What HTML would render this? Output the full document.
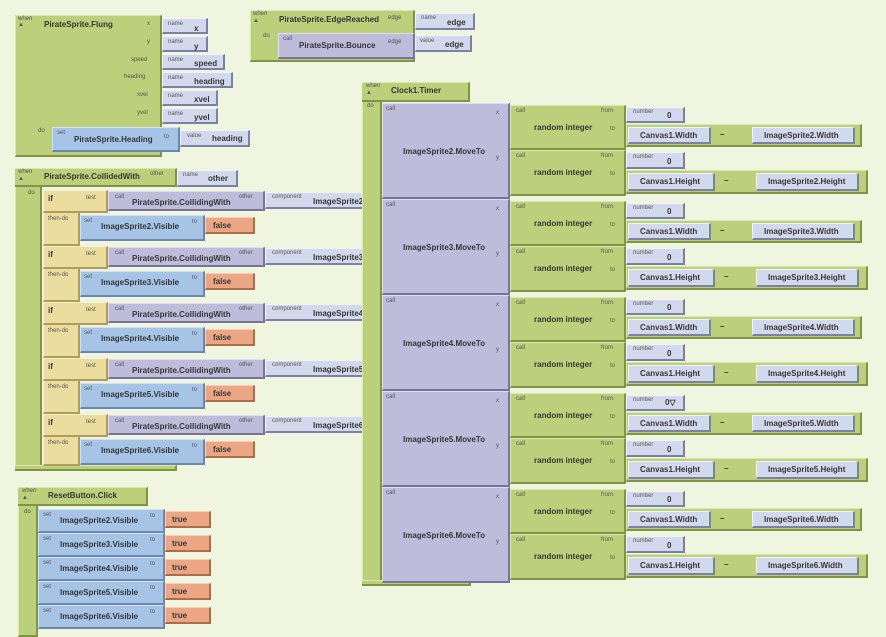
<!DOCTYPE html>
<html><head><meta charset="utf-8"><style>
body{margin:0;width:886px;height:631px;background:#f0f5df;position:relative;overflow:hidden;font-family:"Liberation Sans",sans-serif}
.b{position:absolute;box-sizing:border-box;border-style:solid;border-width:1px 2px 2px 1px}
.g{background:#bccf7b;border-color:#dbe8ad #7f9446 #7f9446 #dbe8ad}
.p{background:#bfbbdb;border-color:#e0ddf2 #77739a #77739a #e0ddf2}
.s{background:#d3d9ec;border-color:#f2f4fb #7a82a3 #7a82a3 #f2f4fb}
.bl{background:#a6c4e6;border-color:#d2e2f5 #6a88ae #6a88ae #d2e2f5}
.o{background:#eba684;border-color:#f8ccb6 #ad6c4c #ad6c4c #f8ccb6}
.t{background:#ebdda0;border-color:#f8f0cc #ae9e5e #ae9e5e #f8f0cc}
.m{position:absolute;font:bold 8px "Liberation Sans",sans-serif;color:#363636;white-space:nowrap;line-height:10px}
.l{position:absolute;font:6px "Liberation Sans",sans-serif;color:#555;white-space:nowrap;line-height:7px}
</style></head><body>

<!-- Flung -->
<div class="b g" style="left:15px;top:15px;width:147px;height:142px"></div>
<span class="l" style="left:18px;top:16px">when</span><span class="l" style="left:18px;top:22px">▲</span>
<span class="m" style="left:44px;top:20px">PirateSprite.Flung</span>
<span class="l" style="left:147px;top:21px">x</span>
<span class="l" style="left:147px;top:39px">y</span>
<span class="l" style="left:131px;top:57px">speed</span>
<span class="l" style="left:124px;top:74px">heading</span>
<span class="l" style="left:137px;top:92px">xvel</span>
<span class="l" style="left:137px;top:110px">yvel</span>
<div class="b s" style="left:162px;top:18px;width:46px;height:16px"></div><span class="l" style="left:168px;top:21px">name</span><span class="m" style="left:194px;top:24px">x</span>
<div class="b s" style="left:162px;top:36px;width:46px;height:16px"></div><span class="l" style="left:168px;top:39px">name</span><span class="m" style="left:194px;top:42px">y</span>
<div class="b s" style="left:162px;top:54px;width:63px;height:16px"></div><span class="l" style="left:168px;top:57px">name</span><span class="m" style="left:194px;top:59px">speed</span>
<div class="b s" style="left:162px;top:72px;width:71px;height:16px"></div><span class="l" style="left:168px;top:75px">name</span><span class="m" style="left:194px;top:77px">heading</span>
<div class="b s" style="left:162px;top:90px;width:56px;height:16px"></div><span class="l" style="left:168px;top:93px">name</span><span class="m" style="left:194px;top:95px">xvel</span>
<div class="b s" style="left:162px;top:108px;width:56px;height:16px"></div><span class="l" style="left:168px;top:111px">name</span><span class="m" style="left:194px;top:113px">yvel</span>
<span class="l" style="left:38px;top:128px">do</span>
<div class="b bl" style="left:52px;top:127px;width:128px;height:25px"></div>
<span class="l" style="left:57px;top:130px">set</span><span class="m" style="left:74px;top:135px">PirateSprite.Heading</span><span class="l" style="left:164px;top:134px">to</span>
<div class="b s" style="left:180px;top:130px;width:70px;height:17px"></div><span class="l" style="left:187px;top:133px">value</span><span class="m" style="left:212px;top:134px">heading</span>

<!-- EdgeReached -->
<div class="b g" style="left:250px;top:10px;width:165px;height:52px"></div>
<span class="l" style="left:253px;top:11px">when</span><span class="l" style="left:253px;top:18px">▲</span>
<span class="m" style="left:279px;top:15px">PirateSprite.EdgeReached</span>
<span class="l" style="left:388px;top:15px">edge</span>
<div class="b s" style="left:415px;top:13px;width:60px;height:17px"></div><span class="l" style="left:421px;top:15px">name</span><span class="m" style="left:447px;top:18px">edge</span>
<span class="l" style="left:263px;top:33px">do</span>
<div class="b p" style="left:278px;top:33px;width:137px;height:26px"></div>
<span class="l" style="left:283px;top:36px">call</span><span class="m" style="left:299px;top:41px">PirateSprite.Bounce</span><span class="l" style="left:388px;top:39px">edge</span>
<div class="b s" style="left:415px;top:35px;width:57px;height:17px"></div><span class="l" style="left:420px;top:38px">value</span><span class="m" style="left:445px;top:40px">edge</span>

<!-- CollidedWith -->
<div class="b g" style="left:15px;top:168px;width:27px;height:303px"></div>
<div class="b g" style="left:15px;top:168px;width:162px;height:19px;border-left:none"></div>
<div class="b g" style="left:15px;top:465px;width:162px;height:6px;border-left:none"></div>
<span class="l" style="left:18px;top:169px">when</span><span class="l" style="left:18px;top:176px">▲</span>
<span class="m" style="left:44px;top:172px">PirateSprite.CollidedWith</span>
<span class="l" style="left:150px;top:171px">other</span>
<div class="b s" style="left:177px;top:170px;width:61px;height:17px"></div><span class="l" style="left:183px;top:172px">name</span><span class="m" style="left:208px;top:174px">other</span>
<span class="l" style="left:28px;top:190px">do</span>

<div class="b t" style="left:43px;top:190px;width:37px;height:56px"></div><div class="b t" style="left:43px;top:190px;width:65px;height:23px"></div>
<span class="m" style="left:48px;top:194px">if</span><span class="l" style="left:86px;top:195px">test</span><span class="l" style="left:48px;top:216px">then-do</span>
<div class="b p" style="left:108px;top:191px;width:157px;height:20px"></div><span class="l" style="left:115px;top:194px">call</span><span class="m" style="left:132px;top:198px">PirateSprite.CollidingWith</span><span class="l" style="left:239px;top:194px">other</span>
<div class="b s" style="left:265px;top:192px;width:100px;height:17px"></div><span class="l" style="left:272px;top:194px">component</span><span class="m" style="left:313px;top:197px">ImageSprite2</span>
<div class="b bl" style="left:80px;top:215px;width:125px;height:26px"></div><span class="l" style="left:84px;top:218px">set</span><span class="m" style="left:101px;top:222px">ImageSprite2.Visible</span><span class="l" style="left:192px;top:219px">to</span>
<div class="b o" style="left:205px;top:217px;width:50px;height:17px"></div><span class="m" style="left:213px;top:221px">false</span>

<div class="b t" style="left:43px;top:246px;width:37px;height:56px"></div><div class="b t" style="left:43px;top:246px;width:65px;height:23px"></div>
<span class="m" style="left:48px;top:250px">if</span><span class="l" style="left:86px;top:251px">test</span><span class="l" style="left:48px;top:272px">then-do</span>
<div class="b p" style="left:108px;top:247px;width:157px;height:20px"></div><span class="l" style="left:115px;top:250px">call</span><span class="m" style="left:132px;top:254px">PirateSprite.CollidingWith</span><span class="l" style="left:239px;top:250px">other</span>
<div class="b s" style="left:265px;top:248px;width:100px;height:17px"></div><span class="l" style="left:272px;top:250px">component</span><span class="m" style="left:313px;top:253px">ImageSprite3</span>
<div class="b bl" style="left:80px;top:271px;width:125px;height:26px"></div><span class="l" style="left:84px;top:274px">set</span><span class="m" style="left:101px;top:278px">ImageSprite3.Visible</span><span class="l" style="left:192px;top:275px">to</span>
<div class="b o" style="left:205px;top:273px;width:50px;height:17px"></div><span class="m" style="left:213px;top:277px">false</span>

<div class="b t" style="left:43px;top:302px;width:37px;height:56px"></div><div class="b t" style="left:43px;top:302px;width:65px;height:23px"></div>
<span class="m" style="left:48px;top:306px">if</span><span class="l" style="left:86px;top:307px">test</span><span class="l" style="left:48px;top:328px">then-do</span>
<div class="b p" style="left:108px;top:303px;width:157px;height:20px"></div><span class="l" style="left:115px;top:306px">call</span><span class="m" style="left:132px;top:310px">PirateSprite.CollidingWith</span><span class="l" style="left:239px;top:306px">other</span>
<div class="b s" style="left:265px;top:304px;width:100px;height:17px"></div><span class="l" style="left:272px;top:306px">component</span><span class="m" style="left:313px;top:309px">ImageSprite4</span>
<div class="b bl" style="left:80px;top:327px;width:125px;height:26px"></div><span class="l" style="left:84px;top:330px">set</span><span class="m" style="left:101px;top:334px">ImageSprite4.Visible</span><span class="l" style="left:192px;top:331px">to</span>
<div class="b o" style="left:205px;top:329px;width:50px;height:17px"></div><span class="m" style="left:213px;top:333px">false</span>

<div class="b t" style="left:43px;top:358px;width:37px;height:56px"></div><div class="b t" style="left:43px;top:358px;width:65px;height:23px"></div>
<span class="m" style="left:48px;top:362px">if</span><span class="l" style="left:86px;top:363px">test</span><span class="l" style="left:48px;top:384px">then-do</span>
<div class="b p" style="left:108px;top:359px;width:157px;height:20px"></div><span class="l" style="left:115px;top:362px">call</span><span class="m" style="left:132px;top:366px">PirateSprite.CollidingWith</span><span class="l" style="left:239px;top:362px">other</span>
<div class="b s" style="left:265px;top:360px;width:100px;height:17px"></div><span class="l" style="left:272px;top:362px">component</span><span class="m" style="left:313px;top:365px">ImageSprite5</span>
<div class="b bl" style="left:80px;top:383px;width:125px;height:26px"></div><span class="l" style="left:84px;top:386px">set</span><span class="m" style="left:101px;top:390px">ImageSprite5.Visible</span><span class="l" style="left:192px;top:387px">to</span>
<div class="b o" style="left:205px;top:385px;width:50px;height:17px"></div><span class="m" style="left:213px;top:389px">false</span>

<div class="b t" style="left:43px;top:414px;width:37px;height:52px"></div><div class="b t" style="left:43px;top:414px;width:65px;height:23px"></div>
<span class="m" style="left:48px;top:418px">if</span><span class="l" style="left:86px;top:419px">test</span><span class="l" style="left:48px;top:440px">then-do</span>
<div class="b p" style="left:108px;top:415px;width:157px;height:20px"></div><span class="l" style="left:115px;top:418px">call</span><span class="m" style="left:132px;top:422px">PirateSprite.CollidingWith</span><span class="l" style="left:239px;top:418px">other</span>
<div class="b s" style="left:265px;top:416px;width:100px;height:17px"></div><span class="l" style="left:272px;top:418px">component</span><span class="m" style="left:313px;top:421px">ImageSprite6</span>
<div class="b bl" style="left:80px;top:439px;width:125px;height:26px"></div><span class="l" style="left:84px;top:442px">set</span><span class="m" style="left:101px;top:446px">ImageSprite6.Visible</span><span class="l" style="left:192px;top:443px">to</span>
<div class="b o" style="left:205px;top:441px;width:50px;height:17px"></div><span class="m" style="left:213px;top:445px">false</span>

<!-- ResetButton -->
<div class="b g" style="left:18px;top:487px;width:20px;height:150px"></div>
<div class="b g" style="left:18px;top:487px;width:130px;height:19px;border-left:none"></div>
<span class="l" style="left:22px;top:488px">when</span><span class="l" style="left:22px;top:495px">▲</span>
<span class="m" style="left:48px;top:491px">ResetButton.Click</span>
<span class="l" style="left:24px;top:509px">do</span>
<div class="b bl" style="left:38px;top:509px;width:127px;height:24px"></div><span class="l" style="left:43px;top:512px">set</span><span class="m" style="left:60px;top:516px">ImageSprite2.Visible</span><span class="l" style="left:150px;top:513px">to</span><div class="b o" style="left:165px;top:511px;width:46px;height:17px"></div><span class="m" style="left:172px;top:515px">true</span>
<div class="b bl" style="left:38px;top:533px;width:127px;height:24px"></div><span class="l" style="left:43px;top:536px">set</span><span class="m" style="left:60px;top:540px">ImageSprite3.Visible</span><span class="l" style="left:150px;top:537px">to</span><div class="b o" style="left:165px;top:535px;width:46px;height:17px"></div><span class="m" style="left:172px;top:539px">true</span>
<div class="b bl" style="left:38px;top:557px;width:127px;height:24px"></div><span class="l" style="left:43px;top:560px">set</span><span class="m" style="left:60px;top:564px">ImageSprite4.Visible</span><span class="l" style="left:150px;top:561px">to</span><div class="b o" style="left:165px;top:559px;width:46px;height:17px"></div><span class="m" style="left:172px;top:563px">true</span>
<div class="b bl" style="left:38px;top:581px;width:127px;height:24px"></div><span class="l" style="left:43px;top:584px">set</span><span class="m" style="left:60px;top:588px">ImageSprite5.Visible</span><span class="l" style="left:150px;top:585px">to</span><div class="b o" style="left:165px;top:583px;width:46px;height:17px"></div><span class="m" style="left:172px;top:587px">true</span>
<div class="b bl" style="left:38px;top:605px;width:127px;height:24px"></div><span class="l" style="left:43px;top:608px">set</span><span class="m" style="left:60px;top:612px">ImageSprite6.Visible</span><span class="l" style="left:150px;top:609px">to</span><div class="b o" style="left:165px;top:607px;width:46px;height:17px"></div><span class="m" style="left:172px;top:611px">true</span>

<!-- Clock1.Timer -->
<div class="b g" style="left:362px;top:82px;width:20px;height:504px"></div>
<div class="b g" style="left:362px;top:82px;width:108px;height:20px;border-left:none"></div>
<div class="b g" style="left:362px;top:580px;width:109px;height:6px;border-left:none"></div>
<span class="l" style="left:366px;top:83px">when</span><span class="l" style="left:366px;top:90px">▲</span>
<span class="m" style="left:391px;top:86px">Clock1.Timer</span>
<span class="l" style="left:367px;top:103px">do</span>

<!-- MoveTo 2 (T=103) -->
<div class="b p" style="left:382px;top:103px;width:128px;height:96px"></div>
<span class="l" style="left:386px;top:106px">call</span><span class="m" style="left:403px;top:147px">ImageSprite2.MoveTo</span>
<span class="l" style="left:496px;top:110px">x</span><span class="l" style="left:496px;top:155px">y</span>
<div class="b g" style="left:510px;top:105px;width:116px;height:45px"></div><span class="l" style="left:516px;top:108px">call</span><span class="l" style="left:601px;top:108px">from</span><span class="m" style="left:534px;top:123px">random integer</span><span class="l" style="left:610px;top:126px">to</span>
<div class="b s" style="left:626px;top:107px;width:59px;height:16px"></div><span class="l" style="left:633px;top:109px">number</span><span class="m" style="left:667px;top:111px">0</span>
<div class="b g" style="left:626px;top:124px;width:236px;height:23px"></div>
<div class="b s" style="left:628px;top:127px;width:83px;height:17px"></div><span class="m" style="left:640px;top:131px">Canvas1.Width</span><span class="m" style="left:720px;top:130px">–</span>
<div class="b s" style="left:752px;top:127px;width:103px;height:17px"></div><span class="m" style="left:764px;top:131px">ImageSprite2.Width</span>
<div class="b g" style="left:510px;top:150px;width:116px;height:46px"></div><span class="l" style="left:516px;top:153px">call</span><span class="l" style="left:601px;top:153px">from</span><span class="m" style="left:534px;top:168px">random integer</span><span class="l" style="left:610px;top:171px">to</span>
<div class="b s" style="left:626px;top:152px;width:59px;height:17px"></div><span class="l" style="left:633px;top:154px">number</span><span class="m" style="left:667px;top:157px">0</span>
<div class="b g" style="left:626px;top:170px;width:242px;height:24px"></div>
<div class="b s" style="left:628px;top:173px;width:87px;height:18px"></div><span class="m" style="left:640px;top:177px">Canvas1.Height</span><span class="m" style="left:724px;top:176px">–</span>
<div class="b s" style="left:756px;top:173px;width:103px;height:18px"></div><span class="m" style="left:768px;top:177px">ImageSprite2.Height</span>

<!-- MoveTo 3 (T=199) -->
<div class="b p" style="left:382px;top:199px;width:128px;height:96px"></div>
<span class="l" style="left:386px;top:202px">call</span><span class="m" style="left:403px;top:243px">ImageSprite3.MoveTo</span>
<span class="l" style="left:496px;top:206px">x</span><span class="l" style="left:496px;top:251px">y</span>
<div class="b g" style="left:510px;top:201px;width:116px;height:45px"></div><span class="l" style="left:516px;top:204px">call</span><span class="l" style="left:601px;top:204px">from</span><span class="m" style="left:534px;top:219px">random integer</span><span class="l" style="left:610px;top:222px">to</span>
<div class="b s" style="left:626px;top:203px;width:59px;height:16px"></div><span class="l" style="left:633px;top:205px">number</span><span class="m" style="left:667px;top:207px">0</span>
<div class="b g" style="left:626px;top:220px;width:236px;height:23px"></div>
<div class="b s" style="left:628px;top:223px;width:83px;height:17px"></div><span class="m" style="left:640px;top:227px">Canvas1.Width</span><span class="m" style="left:720px;top:226px">–</span>
<div class="b s" style="left:752px;top:223px;width:103px;height:17px"></div><span class="m" style="left:764px;top:227px">ImageSprite3.Width</span>
<div class="b g" style="left:510px;top:246px;width:116px;height:46px"></div><span class="l" style="left:516px;top:249px">call</span><span class="l" style="left:601px;top:249px">from</span><span class="m" style="left:534px;top:264px">random integer</span><span class="l" style="left:610px;top:267px">to</span>
<div class="b s" style="left:626px;top:248px;width:59px;height:17px"></div><span class="l" style="left:633px;top:250px">number</span><span class="m" style="left:667px;top:253px">0</span>
<div class="b g" style="left:626px;top:266px;width:242px;height:24px"></div>
<div class="b s" style="left:628px;top:269px;width:87px;height:18px"></div><span class="m" style="left:640px;top:273px">Canvas1.Height</span><span class="m" style="left:724px;top:272px">–</span>
<div class="b s" style="left:756px;top:269px;width:103px;height:18px"></div><span class="m" style="left:768px;top:273px">ImageSprite3.Height</span>

<!-- MoveTo 4 (T=295) -->
<div class="b p" style="left:382px;top:295px;width:128px;height:96px"></div>
<span class="l" style="left:386px;top:298px">call</span><span class="m" style="left:403px;top:339px">ImageSprite4.MoveTo</span>
<span class="l" style="left:496px;top:302px">x</span><span class="l" style="left:496px;top:347px">y</span>
<div class="b g" style="left:510px;top:297px;width:116px;height:45px"></div><span class="l" style="left:516px;top:300px">call</span><span class="l" style="left:601px;top:300px">from</span><span class="m" style="left:534px;top:315px">random integer</span><span class="l" style="left:610px;top:318px">to</span>
<div class="b s" style="left:626px;top:299px;width:59px;height:16px"></div><span class="l" style="left:633px;top:301px">number</span><span class="m" style="left:667px;top:303px">0</span>
<div class="b g" style="left:626px;top:316px;width:236px;height:23px"></div>
<div class="b s" style="left:628px;top:319px;width:83px;height:17px"></div><span class="m" style="left:640px;top:323px">Canvas1.Width</span><span class="m" style="left:720px;top:322px">–</span>
<div class="b s" style="left:752px;top:319px;width:103px;height:17px"></div><span class="m" style="left:764px;top:323px">ImageSprite4.Width</span>
<div class="b g" style="left:510px;top:342px;width:116px;height:46px"></div><span class="l" style="left:516px;top:345px">call</span><span class="l" style="left:601px;top:345px">from</span><span class="m" style="left:534px;top:360px">random integer</span><span class="l" style="left:610px;top:363px">to</span>
<div class="b s" style="left:626px;top:344px;width:59px;height:17px"></div><span class="l" style="left:633px;top:346px">number</span><span class="m" style="left:667px;top:349px">0</span>
<div class="b g" style="left:626px;top:362px;width:242px;height:24px"></div>
<div class="b s" style="left:628px;top:365px;width:87px;height:18px"></div><span class="m" style="left:640px;top:369px">Canvas1.Height</span><span class="m" style="left:724px;top:368px">–</span>
<div class="b s" style="left:756px;top:365px;width:103px;height:18px"></div><span class="m" style="left:768px;top:369px">ImageSprite4.Height</span>

<!-- MoveTo 5 (T=391) -->
<div class="b p" style="left:382px;top:391px;width:128px;height:96px"></div>
<span class="l" style="left:386px;top:394px">call</span><span class="m" style="left:403px;top:435px">ImageSprite5.MoveTo</span>
<span class="l" style="left:496px;top:398px">x</span><span class="l" style="left:496px;top:443px">y</span>
<div class="b g" style="left:510px;top:393px;width:116px;height:45px"></div><span class="l" style="left:516px;top:396px">call</span><span class="l" style="left:601px;top:396px">from</span><span class="m" style="left:534px;top:411px">random integer</span><span class="l" style="left:610px;top:414px">to</span>
<div class="b s" style="left:626px;top:395px;width:59px;height:16px"></div><span class="l" style="left:633px;top:397px">number</span><span class="m" style="left:665px;top:398px">0▽</span>
<div class="b g" style="left:626px;top:412px;width:236px;height:23px"></div>
<div class="b s" style="left:628px;top:415px;width:83px;height:17px"></div><span class="m" style="left:640px;top:419px">Canvas1.Width</span><span class="m" style="left:720px;top:418px">–</span>
<div class="b s" style="left:752px;top:415px;width:103px;height:17px"></div><span class="m" style="left:764px;top:419px">ImageSprite5.Width</span>
<div class="b g" style="left:510px;top:438px;width:116px;height:46px"></div><span class="l" style="left:516px;top:441px">call</span><span class="l" style="left:601px;top:441px">from</span><span class="m" style="left:534px;top:456px">random integer</span><span class="l" style="left:610px;top:459px">to</span>
<div class="b s" style="left:626px;top:440px;width:59px;height:17px"></div><span class="l" style="left:633px;top:442px">number</span><span class="m" style="left:667px;top:445px">0</span>
<div class="b g" style="left:626px;top:458px;width:242px;height:24px"></div>
<div class="b s" style="left:628px;top:461px;width:87px;height:18px"></div><span class="m" style="left:640px;top:465px">Canvas1.Height</span><span class="m" style="left:724px;top:464px">–</span>
<div class="b s" style="left:756px;top:461px;width:103px;height:18px"></div><span class="m" style="left:768px;top:465px">ImageSprite5.Height</span>

<!-- MoveTo 6 (T=487) -->
<div class="b p" style="left:382px;top:487px;width:128px;height:96px"></div>
<span class="l" style="left:386px;top:490px">call</span><span class="m" style="left:403px;top:531px">ImageSprite6.MoveTo</span>
<span class="l" style="left:496px;top:494px">x</span><span class="l" style="left:496px;top:539px">y</span>
<div class="b g" style="left:510px;top:489px;width:116px;height:45px"></div><span class="l" style="left:516px;top:492px">call</span><span class="l" style="left:601px;top:492px">from</span><span class="m" style="left:534px;top:507px">random integer</span><span class="l" style="left:610px;top:510px">to</span>
<div class="b s" style="left:626px;top:491px;width:59px;height:16px"></div><span class="l" style="left:633px;top:493px">number</span><span class="m" style="left:667px;top:495px">0</span>
<div class="b g" style="left:626px;top:508px;width:236px;height:23px"></div>
<div class="b s" style="left:628px;top:511px;width:83px;height:17px"></div><span class="m" style="left:640px;top:515px">Canvas1.Width</span><span class="m" style="left:720px;top:514px">–</span>
<div class="b s" style="left:752px;top:511px;width:103px;height:17px"></div><span class="m" style="left:764px;top:515px">ImageSprite6.Width</span>
<div class="b g" style="left:510px;top:534px;width:116px;height:46px"></div><span class="l" style="left:516px;top:537px">call</span><span class="l" style="left:601px;top:537px">from</span><span class="m" style="left:534px;top:552px">random integer</span><span class="l" style="left:610px;top:555px">to</span>
<div class="b s" style="left:626px;top:536px;width:59px;height:17px"></div><span class="l" style="left:633px;top:538px">number</span><span class="m" style="left:667px;top:541px">0</span>
<div class="b g" style="left:626px;top:554px;width:242px;height:24px"></div>
<div class="b s" style="left:628px;top:557px;width:87px;height:18px"></div><span class="m" style="left:640px;top:561px">Canvas1.Height</span><span class="m" style="left:724px;top:560px">–</span>
<div class="b s" style="left:756px;top:557px;width:103px;height:18px"></div><span class="m" style="left:768px;top:561px">ImageSprite6.Width</span>

</body></html>
